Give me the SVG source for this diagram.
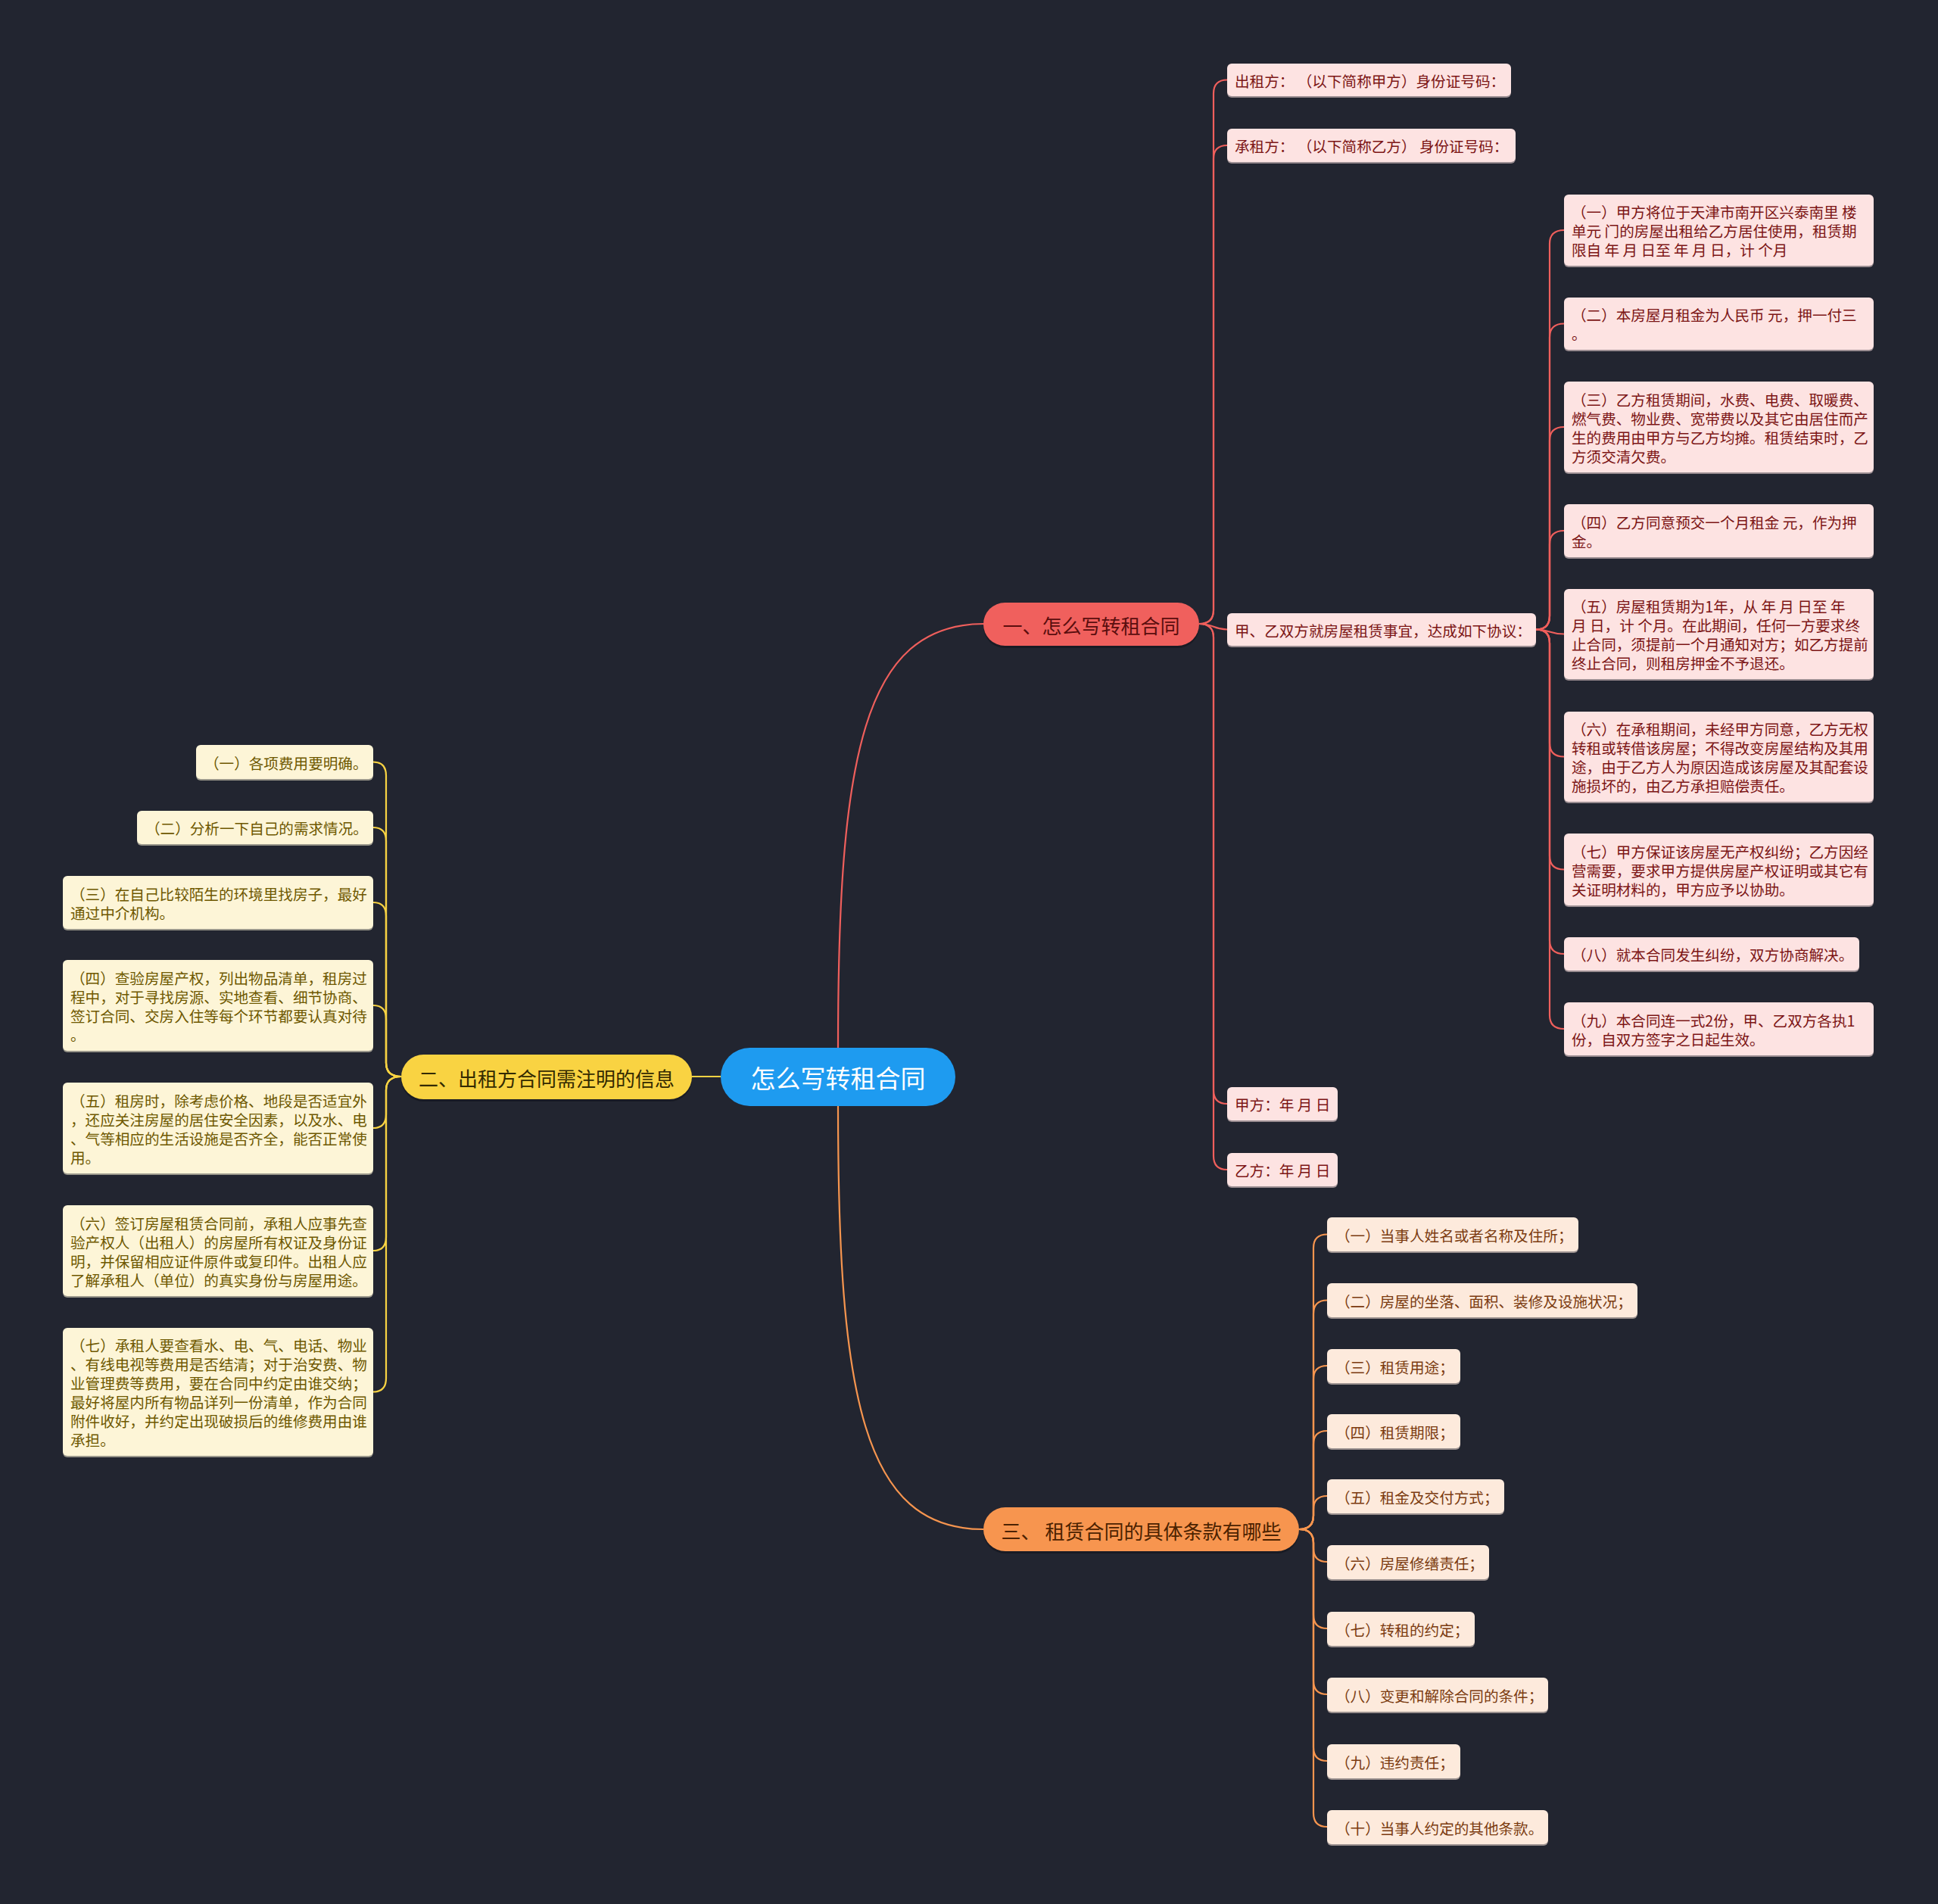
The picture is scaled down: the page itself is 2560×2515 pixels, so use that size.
<svg xmlns="http://www.w3.org/2000/svg" width="2560" height="2515" viewBox="0 0 2560 2515">
<style>
text{font-family:"Noto Sans CJK SC","Noto Sans",sans-serif;dominant-baseline:central}
.lf{font-size:19.6px}
.red rect{fill:#fde3e2}
.red text{fill:#7c1515}
.yel rect{fill:#fdf5d7}
.yel text{fill:#6e5800}
.org rect{fill:#fdeadc}
.org text{fill:#7b3b10}
.sh{fill:#0f1117;opacity:.55}
.cr{fill:none;stroke:#ef5f5c;stroke-width:2.2}
.cy{fill:none;stroke:#f8d343;stroke-width:2.2}
.co{fill:none;stroke:#f6954f;stroke-width:2.2}
.br{font-size:26px}
</style>
<rect width="2560" height="2515" fill="#222530"/>
<g id="connectors">
<path class="cr" stroke-width="3" d="M1107,1384 C1107,1000 1140,824 1300,824"/>
<path class="co" stroke-width="3" d="M1107,1461 C1107,1845 1140,2020 1299,2020"/>
<path class="cy" stroke-width="3" d="M914,1422 L952,1422"/>
<path class="cr" d="M1584,824 Q1603,824 1603,806 L1603,123.5 Q1603,105.5 1621,105.5"/>
<path class="cr" d="M1584,824 Q1603,824 1603,806 L1603,210 Q1603,192 1621,192"/>
<path class="cr" d="M1584,824 C1603,824 1603,831.5 1621,831.5"/>
<path class="cr" d="M1584,824 Q1603,824 1603,842 L1603,1440 Q1603,1458 1621,1458"/>
<path class="cr" d="M1584,824 Q1603,824 1603,842 L1603,1527 Q1603,1545 1621,1545"/>
<path class="cr" d="M2029,831.5 Q2047,831.5 2047,813.5 L2047,322 Q2047,304 2066,304"/>
<path class="cr" d="M2029,831.5 Q2047,831.5 2047,813.5 L2047,445.5 Q2047,427.5 2066,427.5"/>
<path class="cr" d="M2029,831.5 Q2047,831.5 2047,813.5 L2047,582 Q2047,564 2066,564"/>
<path class="cr" d="M2029,831.5 Q2047,831.5 2047,813.5 L2047,719 Q2047,701 2066,701"/>
<path class="cr" d="M2029,831.5 C2047,831.5 2047,837.5 2066,837.5"/>
<path class="cr" d="M2029,831.5 Q2047,831.5 2047,849.5 L2047,981.5 Q2047,999.5 2066,999.5"/>
<path class="cr" d="M2029,831.5 Q2047,831.5 2047,849.5 L2047,1130.5 Q2047,1148.5 2066,1148.5"/>
<path class="cr" d="M2029,831.5 Q2047,831.5 2047,849.5 L2047,1242 Q2047,1260 2066,1260"/>
<path class="cr" d="M2029,831.5 Q2047,831.5 2047,849.5 L2047,1341 Q2047,1359 2066,1359"/>
<path class="cy" d="M530,1422 Q510,1422 510,1404 L510,1024.5 Q510,1006.5 493,1006.5"/>
<path class="cy" d="M530,1422 Q510,1422 510,1404 L510,1111 Q510,1093 493,1093"/>
<path class="cy" d="M530,1422 Q510,1422 510,1404 L510,1210 Q510,1192 493,1192"/>
<path class="cy" d="M530,1422 Q510,1422 510,1404 L510,1346 Q510,1328 493,1328"/>
<path class="cy" d="M530,1422 Q510,1422 510,1440 L510,1472 Q510,1490 493,1490"/>
<path class="cy" d="M530,1422 Q510,1422 510,1440 L510,1634 Q510,1652 493,1652"/>
<path class="cy" d="M530,1422 Q510,1422 510,1440 L510,1820.5 Q510,1838.5 493,1838.5"/>
<path class="co" d="M1716,2020 Q1735,2020 1735,2002 L1735,1648.5 Q1735,1630.5 1753,1630.5"/>
<path class="co" d="M1716,2020 Q1735,2020 1735,2002 L1735,1735.5 Q1735,1717.5 1753,1717.5"/>
<path class="co" d="M1716,2020 Q1735,2020 1735,2002 L1735,1822 Q1735,1804 1753,1804"/>
<path class="co" d="M1716,2020 Q1735,2020 1735,2002 L1735,1908 Q1735,1890 1753,1890"/>
<path class="co" d="M1716,2020 Q1735,2020 1735,2002 L1735,1994 Q1735,1976 1753,1976"/>
<path class="co" d="M1716,2020 Q1735,2020 1735,2038 L1735,2045 Q1735,2063 1753,2063"/>
<path class="co" d="M1716,2020 Q1735,2020 1735,2038 L1735,2133 Q1735,2151 1753,2151"/>
<path class="co" d="M1716,2020 Q1735,2020 1735,2038 L1735,2220 Q1735,2238 1753,2238"/>
<path class="co" d="M1716,2020 Q1735,2020 1735,2038 L1735,2308 Q1735,2326 1753,2326"/>
<path class="co" d="M1716,2020 Q1735,2020 1735,2038 L1735,2395 Q1735,2413 1753,2413"/>
</g>
<g id="root">
<rect x="952" y="1384" width="310" height="77" rx="38.5" fill="#1e9bf0"/>
<text x="1107" y="1422.5" font-size="33" fill="#ffffff" text-anchor="middle">怎么写转租合同</text>
</g>
<g id="b1">
<rect x="1299" y="799" width="285" height="57" rx="28.5" fill="#0f1117" opacity=".5"/>
<rect x="1299" y="796" width="285" height="57" rx="28.5" fill="#f0605d"/>
<text class="br" x="1441.5" y="825" fill="#5a0e0e" text-anchor="middle">一、怎么写转租合同</text>
</g>
<g id="b2">
<rect x="530" y="1396" width="384" height="59" rx="29.5" fill="#0f1117" opacity=".5"/>
<rect x="530" y="1393" width="384" height="59" rx="29.5" fill="#f9d342"/>
<text class="br" x="722" y="1423" fill="#332a00" text-anchor="middle">二、出租方合同需注明的信息</text>
</g>
<g id="b3">
<rect x="1299" y="1994" width="417" height="58" rx="29" fill="#0f1117" opacity=".5"/>
<rect x="1299" y="1991" width="417" height="58" rx="29" fill="#f7954f"/>
<text class="br" x="1507.5" y="2021" fill="#4b2200" text-anchor="middle" xml:space="preserve">三、 租赁合同的具体条款有哪些</text>
</g>
<g class="red lf">
<g id="r1"><rect class="sh" x="1621" y="86" width="375" height="43" rx="6"/><rect x="1621" y="84" width="375" height="43" rx="6"/><text x="1631" y="106" xml:space="preserve">出租方： （以下简称甲方）身份证号码：</text></g>
<g id="r2"><rect class="sh" x="1621" y="172" width="381" height="44" rx="6"/><rect x="1621" y="170" width="381" height="44" rx="6"/><text x="1631" y="192.5" xml:space="preserve">承租方： （以下简称乙方） 身份证号码：</text></g>
<g id="r3"><rect class="sh" x="1621" y="812" width="408" height="43" rx="6"/><rect x="1621" y="810" width="408" height="43" rx="6"/><text x="1631" y="832">甲、乙双方就房屋租赁事宜，达成如下协议：</text></g>
<g id="r4"><rect class="sh" x="1621" y="1438" width="146" height="44" rx="6"/><rect x="1621" y="1436" width="146" height="44" rx="6"/><text x="1631" y="1458.5" xml:space="preserve">甲方：年 月 日</text></g>
<g id="r5"><rect class="sh" x="1621" y="1525" width="146" height="44" rx="6"/><rect x="1621" y="1523" width="146" height="44" rx="6"/><text x="1631" y="1545.5" xml:space="preserve">乙方：年 月 日</text></g>
<g id="s1"><rect class="sh" x="2066" y="259" width="409" height="94" rx="6"/><rect x="2066" y="257" width="409" height="94" rx="6"/><text x="2076" y="279.5">（一）甲方将位于天津市南开区兴泰南里 楼</text><text x="2076" y="304.5">单元 门的房屋出租给乙方居住使用，租赁期</text><text x="2076" y="329.5">限自 年 月 日至 年 月 日，计 个月</text></g>
<g id="s2"><rect class="sh" x="2066" y="395" width="409" height="69" rx="6"/><rect x="2066" y="393" width="409" height="69" rx="6"/><text x="2076" y="415.5">（二）本房屋月租金为人民币 元，押一付三</text><text x="2076" y="440.5">。</text></g>
<g id="s3"><rect class="sh" x="2066" y="506" width="409" height="120" rx="6"/><rect x="2066" y="504" width="409" height="120" rx="6"/><text x="2076" y="527">（三）乙方租赁期间，水费、电费、取暖费、</text><text x="2076" y="552">燃气费、物业费、宽带费以及其它由居住而产</text><text x="2076" y="577">生的费用由甲方与乙方均摊。租赁结束时，乙</text><text x="2076" y="602">方须交清欠费。</text></g>
<g id="s4"><rect class="sh" x="2066" y="668" width="409" height="70" rx="6"/><rect x="2066" y="666" width="409" height="70" rx="6"/><text x="2076" y="689">（四）乙方同意预交一个月租金 元，作为押</text><text x="2076" y="714">金。</text></g>
<g id="s5"><rect class="sh" x="2066" y="780" width="409" height="119" rx="6"/><rect x="2066" y="778" width="409" height="119" rx="6"/><text x="2076" y="800.5">（五）房屋租赁期为1年，从 年 月 日至 年</text><text x="2076" y="825.5">月 日，计 个月。在此期间，任何一方要求终</text><text x="2076" y="850.5">止合同，须提前一个月通知对方；如乙方提前</text><text x="2076" y="875.5">终止合同，则租房押金不予退还。</text></g>
<g id="s6"><rect class="sh" x="2066" y="942" width="409" height="119" rx="6"/><rect x="2066" y="940" width="409" height="119" rx="6"/><text x="2076" y="962.5">（六）在承租期间，未经甲方同意，乙方无权</text><text x="2076" y="987.5">转租或转借该房屋；不得改变房屋结构及其用</text><text x="2076" y="1012.5">途，由于乙方人为原因造成该房屋及其配套设</text><text x="2076" y="1037.5">施损坏的，由乙方承担赔偿责任。</text></g>
<g id="s7"><rect class="sh" x="2066" y="1103" width="409" height="95" rx="6"/><rect x="2066" y="1101" width="409" height="95" rx="6"/><text x="2076" y="1124">（七）甲方保证该房屋无产权纠纷；乙方因经</text><text x="2076" y="1149">营需要，要求甲方提供房屋产权证明或其它有</text><text x="2076" y="1174">关证明材料的，甲方应予以协助。</text></g>
<g id="s8"><rect class="sh" x="2066" y="1240" width="390" height="44" rx="6"/><rect x="2066" y="1238" width="390" height="44" rx="6"/><text x="2076" y="1260.5">（八）就本合同发生纠纷，双方协商解决。</text></g>
<g id="s9"><rect class="sh" x="2066" y="1326" width="409" height="70" rx="6"/><rect x="2066" y="1324" width="409" height="70" rx="6"/><text x="2076" y="1347">（九）本合同连一式2份，甲、乙双方各执1</text><text x="2076" y="1372">份，自双方签字之日起生效。</text></g>
</g>
<g class="yel lf">
<g id="y1"><rect class="sh" x="259" y="986" width="234" height="45" rx="6"/><rect x="259" y="984" width="234" height="45" rx="6"/><text x="270" y="1007">（一）各项费用要明确。</text></g>
<g id="y2"><rect class="sh" x="181" y="1073" width="312" height="44" rx="6"/><rect x="181" y="1071" width="312" height="44" rx="6"/><text x="192" y="1093.5">（二）分析一下自己的需求情况。</text></g>
<g id="y3"><rect class="sh" x="83" y="1159" width="410" height="70" rx="6"/><rect x="83" y="1157" width="410" height="70" rx="6"/><text x="93" y="1180">（三）在自己比较陌生的环境里找房子，最好</text><text x="93" y="1205">通过中介机构。</text></g>
<g id="y4"><rect class="sh" x="83" y="1270" width="410" height="120" rx="6"/><rect x="83" y="1268" width="410" height="120" rx="6"/><text x="93" y="1291">（四）查验房屋产权，列出物品清单，租房过</text><text x="93" y="1316">程中，对于寻找房源、实地查看、细节协商、</text><text x="93" y="1341">签订合同、交房入住等每个环节都要认真对待</text><text x="93" y="1366">。</text></g>
<g id="y5"><rect class="sh" x="83" y="1432" width="410" height="120" rx="6"/><rect x="83" y="1430" width="410" height="120" rx="6"/><text x="93" y="1453">（五）租房时，除考虑价格、地段是否适宜外</text><text x="93" y="1478">，还应关注房屋的居住安全因素，以及水、电</text><text x="93" y="1503">、气等相应的生活设施是否齐全，能否正常使</text><text x="93" y="1528">用。</text></g>
<g id="y6"><rect class="sh" x="83" y="1594" width="410" height="120" rx="6"/><rect x="83" y="1592" width="410" height="120" rx="6"/><text x="93" y="1615">（六）签订房屋租赁合同前，承租人应事先查</text><text x="93" y="1640">验产权人（出租人）的房屋所有权证及身份证</text><text x="93" y="1665">明，并保留相应证件原件或复印件。出租人应</text><text x="93" y="1690">了解承租人（单位）的真实身份与房屋用途。</text></g>
<g id="y7"><rect class="sh" x="83" y="1756" width="410" height="169" rx="6"/><rect x="83" y="1754" width="410" height="169" rx="6"/><text x="93" y="1776">（七）承租人要查看水、电、气、电话、物业</text><text x="93" y="1801">、有线电视等费用是否结清；对于治安费、物</text><text x="93" y="1826">业管理费等费用，要在合同中约定由谁交纳；</text><text x="93" y="1851">最好将屋内所有物品详列一份清单，作为合同</text><text x="93" y="1876">附件收好，并约定出现破损后的维修费用由谁</text><text x="93" y="1901">承担。</text></g>
</g>
<g class="org lf">
<g id="o1"><rect class="sh" x="1753" y="1610" width="332" height="45" rx="6"/><rect x="1753" y="1608" width="332" height="45" rx="6"/><text x="1764" y="1631">（一）当事人姓名或者名称及住所；</text></g>
<g id="o2"><rect class="sh" x="1753" y="1697" width="410" height="45" rx="6"/><rect x="1753" y="1695" width="410" height="45" rx="6"/><text x="1764" y="1718">（二）房屋的坐落、面积、装修及设施状况；</text></g>
<g id="o3"><rect class="sh" x="1753" y="1784" width="176" height="45" rx="6"/><rect x="1753" y="1782" width="176" height="45" rx="6"/><text x="1764" y="1805">（三）租赁用途；</text></g>
<g id="o4"><rect class="sh" x="1753" y="1870" width="176" height="45" rx="6"/><rect x="1753" y="1868" width="176" height="45" rx="6"/><text x="1764" y="1891">（四）租赁期限；</text></g>
<g id="o5"><rect class="sh" x="1753" y="1956" width="234" height="45" rx="6"/><rect x="1753" y="1954" width="234" height="45" rx="6"/><text x="1764" y="1977">（五）租金及交付方式；</text></g>
<g id="o6"><rect class="sh" x="1753" y="2043" width="214" height="45" rx="6"/><rect x="1753" y="2041" width="214" height="45" rx="6"/><text x="1764" y="2064">（六）房屋修缮责任；</text></g>
<g id="o7"><rect class="sh" x="1753" y="2131" width="195" height="45" rx="6"/><rect x="1753" y="2129" width="195" height="45" rx="6"/><text x="1764" y="2152">（七）转租的约定；</text></g>
<g id="o8"><rect class="sh" x="1753" y="2218" width="292" height="45" rx="6"/><rect x="1753" y="2216" width="292" height="45" rx="6"/><text x="1764" y="2239">（八）变更和解除合同的条件；</text></g>
<g id="o9"><rect class="sh" x="1753" y="2306" width="176" height="45" rx="6"/><rect x="1753" y="2304" width="176" height="45" rx="6"/><text x="1764" y="2327">（九）违约责任；</text></g>
<g id="o10"><rect class="sh" x="1753" y="2393" width="292" height="45" rx="6"/><rect x="1753" y="2391" width="292" height="45" rx="6"/><text x="1764" y="2414">（十）当事人约定的其他条款。</text></g>
</g>
</svg>
